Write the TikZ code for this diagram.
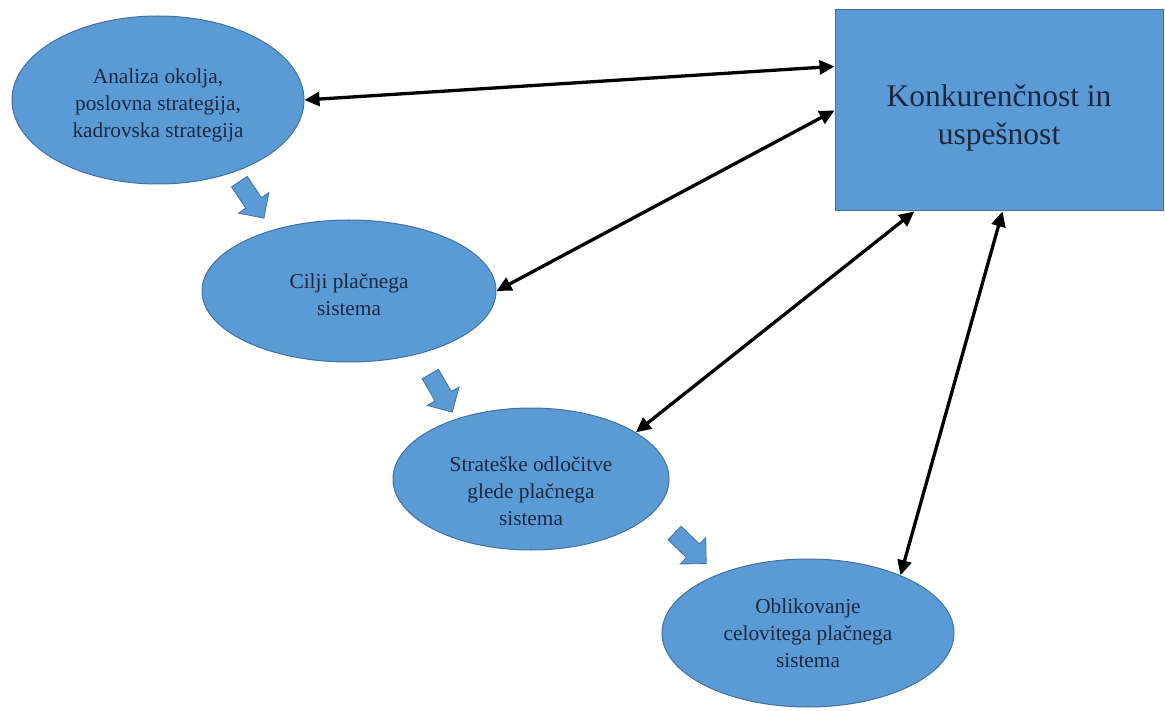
\documentclass[tikz,border=0pt]{standalone}
\usepackage{fontspec}
\setmainfont{Liberation Serif}
\usetikzlibrary{shapes.geometric,shapes.arrows,arrows.meta}
\begin{document}
\begin{tikzpicture}[x=1pt,y=-1pt,
  oval/.style={ellipse,draw=edge,fill=box,line width=1pt,inner sep=0pt},
  txt/.style={align=center,text=ink,inner sep=0pt,font=\fontsize{21.3}{27}\selectfont},
  flow/.style={single arrow,draw=edge,fill=box,line width=.8pt,inner xsep=0pt,inner ysep=9pt,minimum height=44pt,minimum width=36pt,single arrow head extend=9pt},
  link/.style={line width=3.3pt,{Triangle[length=15pt,width=14pt]}-{Triangle[length=15pt,width=14pt]}}]
\definecolor{box}{HTML}{5B9BD5}\definecolor{edge}{HTML}{41719C}
\definecolor{ink}{HTML}{1C2841}
\useasboundingbox (0,0) rectangle (1165,711);
\node[oval,minimum width=292pt,minimum height=168pt] (analiza) at (158,100) {};
\node[txt] (analiza-t) at ([yshift=-5pt]analiza) {Analiza okolja,\\poslovna strategija,\\kadrovska strategija};
\node[oval,minimum width=294pt,minimum height=142pt] (cilji) at (349,291) {};
\node[txt] (cilji-t) at ([yshift=-4pt]cilji) {Cilji plačnega\\sistema};
\node[oval,minimum width=276pt,minimum height=142pt] (odlocitve) at (531,479) {};
\node[txt] (odlocitve-t) at ([yshift=-12pt]odlocitve) {Strateške odločitve\\glede plačnega\\sistema};
\node[oval,minimum width=292pt,minimum height=148pt] (oblikovanje) at (808,633) {};
\node[txt] (oblikovanje-t) at (oblikovanje) {Oblikovanje\\celovitega plačnega\\sistema};
\node[draw=edge,fill=box,line width=1pt,minimum width=328pt,minimum height=201pt,inner sep=0pt] (uspeh) at (999,110.5) {};
\node[txt,font=\fontsize{31.5}{38}\selectfont] (uspeh-t) at ([yshift=-7pt]uspeh) {Konkurenčnost in\\uspešnost};
% block arrows between the steps
\node[flow,rotate=-56] (f1) at (249,196) {};
\node[flow,rotate=-60] (f2) at (439,389) {};
\node[flow,rotate=-44] (f3) at (687,545) {};
% links to the goal
\draw[link] (analiza.east) -- (uspeh.165.5);
\draw[link] (cilji.east) -- (uspeh.west);
\draw[link] (odlocitve.24) -- (uspeh.230);
\draw[link] (oblikovanje.32) -- (uspeh.272.3);
\end{tikzpicture}
\end{document}
